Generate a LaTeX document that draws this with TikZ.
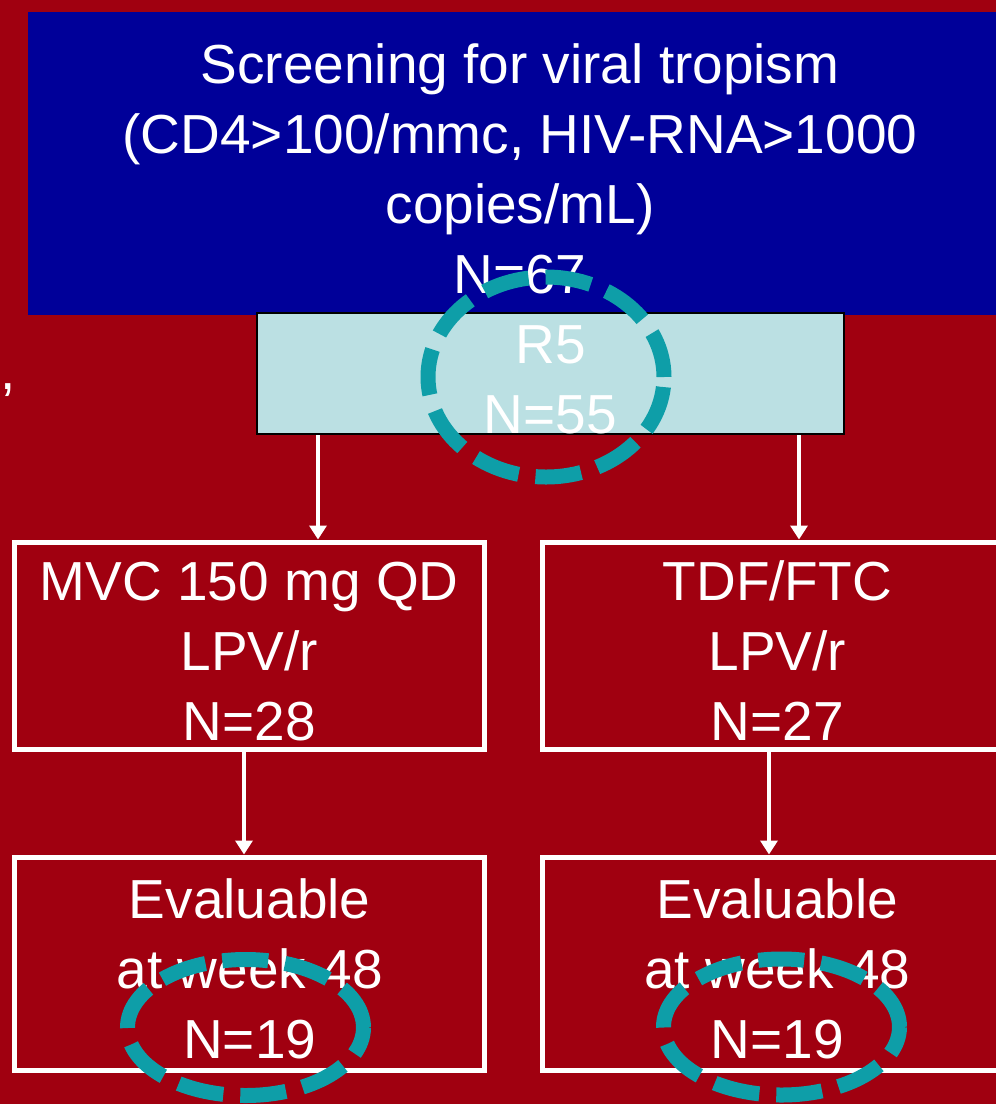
\documentclass[tikz,border=0pt]{standalone}
\usepackage{fontspec}
\setmainfont{Liberation Sans}
\usetikzlibrary{arrows.meta,shapes.geometric}
\definecolor{slidered}{RGB}{160,0,16}
\definecolor{slidenavy}{RGB}{0,0,153}
\definecolor{paleteal}{RGB}{187,224,227}
\definecolor{ringteal}{RGB}{14,158,168}
\newcommand{\toplift}{\rule{0pt}{50pt}}

\begin{document}
\begin{tikzpicture}[x=1pt,y=-1pt,
  txt/.style={text=white,align=center,inner sep=0pt,font=\fontsize{55}{70}\selectfont},
  screenbox/.style={txt,rectangle,fill=slidenavy,minimum width=984pt,minimum height=303pt},
  r5box/.style={txt,rectangle,draw=black,line width=2.5pt,fill=paleteal,minimum width=587pt,minimum height=121pt},
  armbox/.style={txt,rectangle,draw=white,line width=5pt,minimum width=470pt},
  link/.style={draw=white,line width=4pt,-{Triangle[width=17pt,length=14pt]}},
  ring/.style={ellipse,draw=ringteal,line width=15pt,dash pattern=on 46pt off 17pt,inner sep=0pt}]
\useasboundingbox (0,0) rectangle (996,1104);
\clip (0,0) rectangle (996,1104);
\fill[slidered] (0,0) rectangle (996,1104);

\node [screenbox] (screen) at (520,163.5) {\toplift Screening for viral tropism\\(CD4>100/mmc, HIV-RNA>1000\\copies/mL)\\N=67};
\node [r5box] (r5) at (550.5,373.5) {\toplift R5\\N=55};
\node [txt,anchor=base west] (comma) at (0,389) {,};

\node [armbox,minimum height=207pt] (mvc) at (249.25,645.5) {\toplift MVC 150 mg QD\\LPV/r\\N=28};
\node [armbox,minimum height=207pt] (tdf) at (777.25,645.5) {\toplift TDF/FTC\\LPV/r\\N=27};
\node [armbox,minimum height=213pt] (evalmvc) at (249.75,963.5) {\toplift Evaluable\\at week 48\\N=19};
\node [armbox,minimum height=213pt] (evaltdf) at (777.25,963.5) {\toplift Evaluable\\at week 48\\N=19};

\coordinate (a1) at (318,0);
\coordinate (a2) at (799,0);
\coordinate (a3) at (244,0);
\coordinate (a4) at (769,0);
\draw [link] (r5.south -| a1) -- (mvc.north -| a1);
\draw [link] (r5.south -| a2) -- (tdf.north -| a2);
\draw [link] (mvc.south -| a3) -- (evalmvc.north -| a3);
\draw [link] (tdf.south -| a4) -- (evaltdf.north -| a4);

% dashed marks
\node [ring,minimum width=236pt,minimum height=200pt] (ringr5) at (546,377) {};
\node [ring,minimum width=236pt,minimum height=136pt] (ringmvc) at (245.5,1027.5) {};
\node [ring,minimum width=236pt,minimum height=136pt] (ringtdf) at (781.5,1027) {};
\end{tikzpicture}
\end{document}
